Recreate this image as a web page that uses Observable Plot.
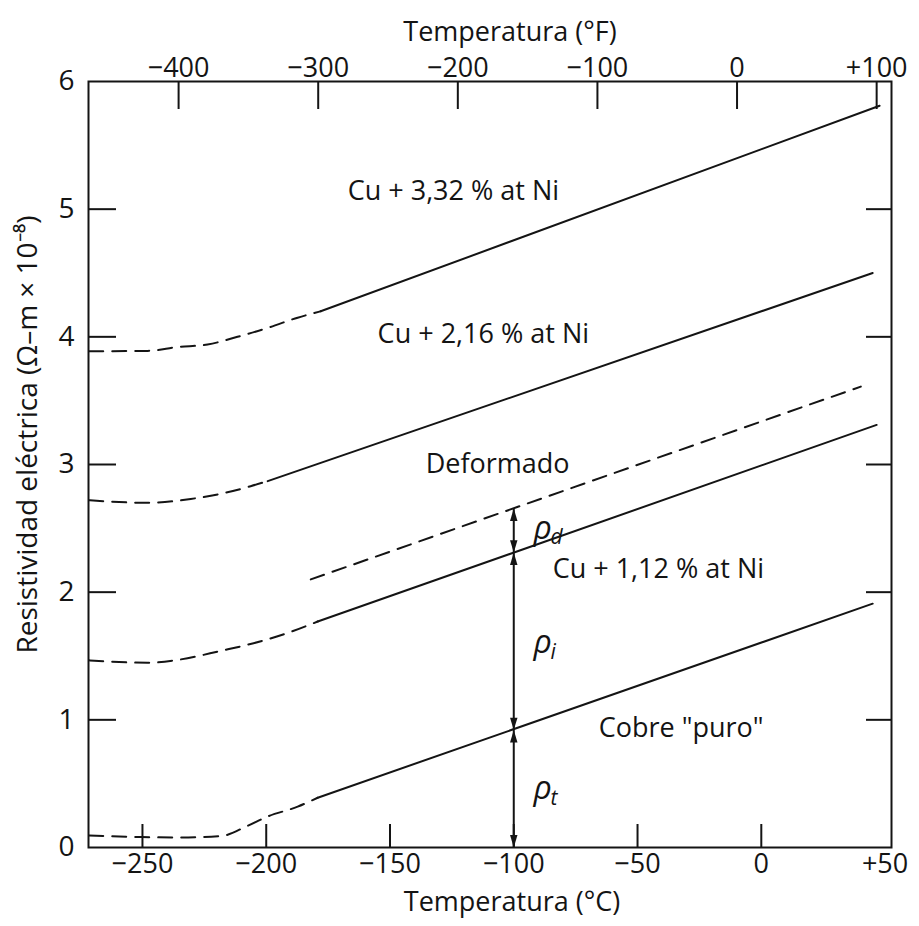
<!DOCTYPE html>
<html>
<head>
<meta charset="utf-8">
<script src="https://cdn.jsdelivr.net/npm/d3@7"></script>
<script src="https://cdn.jsdelivr.net/npm/@observablehq/plot@0.6"></script>
<style>
  body { margin: 0; background: #fff; }
  #chart { width: 919px; height: 926px; }
</style>
</head>
<body>
<div id="chart"></div>
<script>
// ---------------- data ----------------
// temperature in °C, electrical resistivity in 10^-8 Ω·m
// Cu + 3.32 at% Ni
const cu332T = [-271.5, -247.9, -235.8, -223.7, -211.6, -199.4, -187.3, -178.0, 47.8];
const cu332R = [3.887, 3.89, 3.92, 3.94, 4.00, 4.07, 4.15, 4.20, 5.81];
const cu332SolidFrom = -178.0;
// Cu + 2.16 at% Ni
const cu216T = [-271.5, -247.9, -230.5, -218.4, -206.3, -199.4, 45.0];
const cu216R = [2.72, 2.70, 2.73, 2.77, 2.83, 2.87, 4.50];
const cu216SolidFrom = -199.4;
// Deformed (dashed throughout)
const defT = [-182.0, 40.2];
const defR = [2.10, 3.61];
// Cu + 1.12 at% Ni
const cu112T = [-271.5, -247.9, -234.6, -218.4, -205.1, -191.4, -179.2, 46.6];
const cu112R = [1.466, 1.447, 1.473, 1.54, 1.60, 1.68, 1.77, 3.31];
const cu112SolidFrom = -179.2;
// "Pure" copper
const cuT = [-271.5, -250.7, -235.8, -218.4, -207.5, -199.8, -187.3, -179.2, 45.0];
const cuR = [0.094, 0.082, 0.078, 0.089, 0.17, 0.24, 0.32, 0.39, 1.91];
const cuSolidFrom = -179.2;

// curve labels
const labelTexts = ["Cu + 3,32 % at Ni", "Cu + 2,16 % at Ni", "Deformado", "Cu + 1,12 % at Ni", "Cobre \"puro\""];
const labelT = [-167.1, -155.0, -135.6, -84.3, -65.7];
const labelR = [5.14, 4.02, 3.00, 2.18, 0.93];

// resistivity contributions at -100 °C
const arrowT = -100;
const arrowLevels = [0, 0.92, 2.31, 2.655];   // 0, pure Cu, Cu+1.12, deformed
const rhoSubs = ["d", "i", "t"];
const rhoLabelR = [2.50, 1.60, 0.46];
const rhoLabelT = -92;

// axes
const yTicks = [0, 1, 2, 3, 4, 5, 6];
const yInnerTicks = [1, 2, 3, 4, 5];
const cTicks = [-250, -200, -150, -100, -50, 0, 50];
const cInnerTicks = [-250, -200, -150, -100, -50, 0];
const fTicks = [-400, -300, -200, -100, 0, 100];
// top (°F) axis placement as drawn in the figure, expressed on the °C scale
const fToC = f => -9.8 + 0.564 * f;

const xDomain = [-271.8, 52.6];
const yDomain = [0, 6];

// ---------------- build tables ----------------
function split(name, T, R, solidFrom) {
  const pts = T.map((t, i) => ({name, t, r: R[i]}));
  return {dashed: pts.filter(d => d.t <= solidFrom), solid: pts.filter(d => d.t >= solidFrom)};
}
const curves = [
  split("cu332", cu332T, cu332R, cu332SolidFrom),
  split("cu216", cu216T, cu216R, cu216SolidFrom),
  split("def", defT, defR, Infinity),
  split("cu112", cu112T, cu112R, cu112SolidFrom),
  split("cu", cuT, cuR, cuSolidFrom)
];
const dashed = curves.flatMap(c => c.dashed);
const solid = curves.flatMap(c => c.solid);
const labels = labelTexts.map((s, i) => ({s, t: labelT[i], r: labelR[i]}));
const rhos = rhoSubs.map((s, i) => ({s, r: rhoLabelR[i]}));

const fmtSigned = d => d > 0 ? "+" + d : d < 0 ? "\u2212" + (-d) : "0";

// narrow filled arrowhead symbol: tip at the anchor point, pointing up
const arrowHead = {
  draw(context, size) {
    const h = Math.sqrt(size) * 1.4;
    const w = h * 0.3;
    context.moveTo(0, 0);
    context.lineTo(-w, h);
    context.lineTo(w, h);
    context.closePath();
  }
};

const ink = "#141414";
const font = "Open Sans";

const chart = Plot.plot({
  width: 919,
  height: 926,
  marginLeft: 88,
  marginRight: 28,
  marginTop: 81,
  marginBottom: 79,
  style: {fontFamily: font, background: "#fff", color: ink},
  x: {domain: xDomain},
  y: {domain: yDomain},
  marks: [
    Plot.frame({stroke: ink, strokeWidth: 2}),
    // inward ticks
    Plot.ruleY(yInnerTicks, {y: d => d, x1: xDomain[0], x2: xDomain[0], insetRight: -28, stroke: ink, strokeWidth: 2}),
    Plot.ruleY(yInnerTicks, {y: d => d, x1: xDomain[1], x2: xDomain[1], insetLeft: -25, stroke: ink, strokeWidth: 2}),
    Plot.ruleX(cInnerTicks, {x: d => d, y1: 0, y2: 0, insetTop: -23, stroke: ink, strokeWidth: 2}),
    Plot.ruleX(fTicks, {x: fToC, y1: 6, y2: 6, insetBottom: -28, stroke: ink, strokeWidth: 2}),
    // axis labels
    Plot.axisY({ticks: yTicks, tickSize: 0, tickPadding: 14, fontSize: 28, tickFormat: d => String(d), label: null}),
    Plot.axisX({ticks: cTicks, tickSize: 0, tickPadding: 6, fontSize: 27, tickFormat: fmtSigned, label: null}),
    Plot.text(fTicks, {x: fToC, frameAnchor: "top", dy: -24, text: fmtSigned, fontSize: 27, fill: ink}),
    Plot.text(["Temperatura (°F)"], {frameAnchor: "top", dy: -60, dx: 20, fontSize: 27, fill: ink}),
    Plot.text(["Temperatura (°C)"], {frameAnchor: "bottom", dy: 63, dx: 22, fontSize: 27, fill: ink}),
    Plot.text(["Resistividad eléctrica (Ω–m × 10⁻⁸)"], {frameAnchor: "left", dx: -60, dy: -30, rotate: -90, textAnchor: "middle", fontSize: 28, fill: ink}),
    // curves
    Plot.line(dashed, {x: "t", y: "r", z: "name", curve: "monotone-x", stroke: ink, strokeWidth: 2, strokeDasharray: "14,9"}),
    Plot.line(solid, {x: "t", y: "r", z: "name", stroke: ink, strokeWidth: 2}),
    Plot.text(labels, {x: "t", y: "r", text: "s", textAnchor: "start", fontSize: 27, fill: ink}),
    // contribution arrows at -100 °C
    Plot.ruleX([arrowT], {x: d => d, y1: arrowLevels[0], y2: arrowLevels[arrowLevels.length - 1], stroke: ink, strokeWidth: 2}),
    Plot.dot(arrowLevels.slice(1), {x: () => arrowT, y: d => d, symbol: arrowHead, r: 5, fill: ink, stroke: "none"}),
    Plot.dot(arrowLevels.slice(0, -1), {x: () => arrowT, y: d => d, symbol: arrowHead, r: 5, rotate: 180, fill: ink, stroke: "none"}),
    Plot.text(rhos, {x: () => rhoLabelT, y: "r", text: () => "ρ", textAnchor: "start", fontSize: 32, fontStyle: "italic", fill: ink}),
    Plot.text(rhos, {x: () => rhoLabelT, y: "r", text: "s", textAnchor: "start", dx: 17, dy: 9, fontSize: 21, fontStyle: "italic", fill: ink})
  ]
});
document.getElementById("chart").appendChild(chart);
</script>
</body>
</html>
